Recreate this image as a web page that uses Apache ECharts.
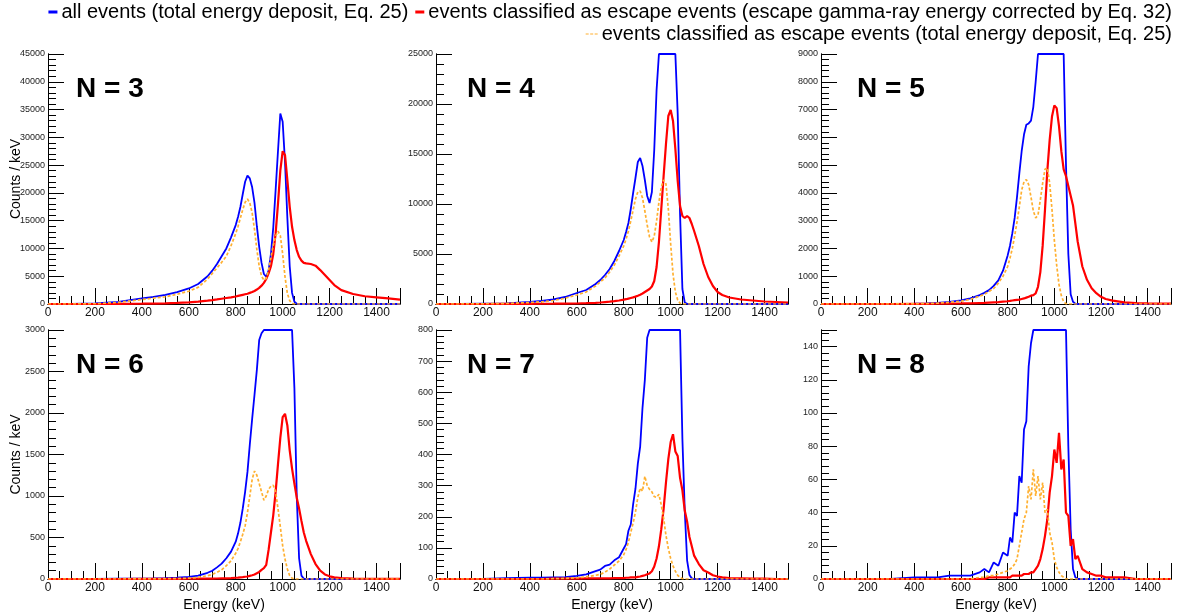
<!DOCTYPE html>
<html>
<head>
<meta charset="utf-8">
<script src="https://cdn.jsdelivr.net/npm/echarts@6/dist/echarts.min.js"></script>
<style>
html,body{margin:0;padding:0;background:#fff;}
#c{width:1178px;height:613px;}
</style>
</head>
<body>
<div id="c"></div>
<script>
// Energy sample points (keV)
const energy = [0,100,200,300,400,450,500,550,600, 640,680, 700,720,740,760,780,
  800,810,820,830,840,850,860,870,880,890,900,910,920,930,940,950,960,970,980,990,
  1000,1010,1020,1030,1040,1050,1060,1070,1080,1090,1100,
  1120,1140,1160,1180,1200,1220, 1250,1300,1350,1400,1450,1500];

// N = 3
const n3All = [0,0,100,400,1000,1300,1650,2150,2800, 3600,5000, 6000,7200,8600,10000,12000,
  14200,15700,17500,19800,22000,23100,22600,21000,18200,14000, 10300,7400,5400,4900,6000,9000,13800,20500,27500,34300,
  32800,25500,15500,6800,2000,400,60,0,0,0,0, 0,0,0,0,0,0, 0,0,0,0,0,0];
const n3Corr = [0,0,0,20,50,80,120,200,300, 430,600, 700,820,950,1080,1200,
  1350,1450,1550,1650,1750,1850,2000,2150,2350,2600, 2900,3300,3800,4500,5500,6800,9000,12700,18000,24000,
  27500,26800,22300,17500,13900,11500,9700,8500,7800,7400,7300, 7200,6900,6100,5200,4300,3400, 2500,1800,1400,1200,1000,800];
const n3Tot = [0,0,50,300,800,1050,1300,1750,2300, 3000,4500, 5500,6500,7500,8600,10500,
  12700,14000,15500,17000,18300,18900,18200,16400,13400,9800, 6800,5000,4300,4600,6100,8500,10600,12200,13100,12300,
  9000,4900,1900,600,100,0,0,0,0,0,0, 0,0,0,0,0,0, 0,0,0,0,0,0];

// N = 4
const n4All = [0,0,30,60,200,300,450,700,1100, 1400,2000, 2400,2900,3500,4300,5300,
  6400,7200,8100,9500,11100,12600,14200,14600,13800,12400, 10800,10100,11200,15400,21400,25300,31000,37000,41000,43000,
  42000,37000,27000,19000,9000,1500,150,20,0,0,0, 0,0,0,0,0,0, 0,0,0,0,0,0];
const n4Corr = [0,0,0,10,20,25,30,40,50, 80,120, 150,190,230,280,350,
  430,480,540,600,660,740,830,930,1050,1200, 1350,1500,1750,2300,3700,6200,9500,12800,16000,18800,
  19400,18300,15500,12300,9800,8800,8600,8800,8600,8000,7300, 5800,4000,2700,1800,1200,900, 650,450,350,250,200,150];
const n4Tot = [0,0,20,50,150,220,350,580,900, 1200,1800, 2200,2600,3200,3900,4800,
  5800,6500,7300,8300,9400,10500,11200,11300,10600,9300, 7900,6700,6200,6800,8300,10200,11700,12400,12000,9500,
  6000,3000,1200,400,80,0,0,0,0,0,0, 0,0,0,0,0,0, 0,0,0,0,0,0];

// N = 5
const n5All = [0,0,0,5,10,20,40,80,130, 200,320, 400,500,650,850,1200,
  1750,2100,2550,3100,3850,4700,5500,6100,6450,6500, 6600,7100,8000,9100,12000,15000,18000,21000,23000,24000,
  24000,22000,18000,12000,9200,5000,1800,350,80,10,0, 0,0,0,0,0,0, 0,0,0,0,0,0];
const n5Corr = [0,0,0,0,5,8,10,15,20, 25,35, 40,50,60,70,85,
  100,110,125,140,150,160,180,200,230,260, 300,320,380,620,1150,2100,3400,4800,5900,6750,
  7150,7050,6400,5500,4850,4600,4250,3900,3550,2900,2250, 1350,870,570,390,260,180, 120,60,35,20,15,10];
const n5Tot = [0,0,0,0,5,15,30,60,100, 170,280, 350,450,560,750,1000,
  1350,1650,2000,2450,2950,3500,4100,4400,4480,4300, 3850,3350,3100,3200,3750,4350,4850,4900,4350,3400,
  2300,1400,700,300,80,10,0,0,0,0,0, 0,0,0,0,0,0, 0,0,0,0,0,0];

// N = 6
const n6All = [0,0,0,3,5,7,10,15,25, 40,75, 100,140,185,250,330,
  450,550,680,850,1050,1290,1620,1930,2220,2520, 2880,2960,3300,4500,6000,7500,9000,10000,10500,10500,
  10000,9000,7500,5500,3600,2300,1000,250,40,5,0, 0,0,0,0,0,0, 0,0,0,0,0,0];
const n6Corr = [0,0,0,0,1,1,2,2,3, 4,5, 5,6,7,8,10,
  15,17,20,23,27,30,38,45,55,70, 85,110,130,170,350,560,770,1050,1380,1700,
  1950,1990,1850,1550,1330,1150,980,850,700,560,460, 300,180,100,55,32,20, 10,5,3,2,1,1];
const n6Tot = [0,0,0,0,1,2,3,5,10, 20,40, 55,80,110,160,220,
  310,370,450,540,640,800,1000,1200,1300,1250, 1150,1050,950,1000,1080,1120,1130,1050,850,630,
  400,240,120,40,10,0,0,0,0,0,0, 0,0,0,0,0,0, 0,0,0,0,0,0];

// N = 7
const n7All = [0,0,0,3,4,4,5,6,10, 15,25, 30,42,46,60,70,
  98,112,155,175,240,290,370,425,550,640, 775,830,1000,1300,1600,1900,2200,2400,2500,2500,
  2400,2100,1700,1200,850,450,220,60,13,2,0, 0,0,0,0,0,0, 0,0,0,0,0,0];
const n7Corr = [0,0,0,0,0,0,1,1,1, 2,2, 2,2,2,3,3,
  3,4,4,5,5,5,7,8,10,12, 15,18,25,40,66,105,160,225,310,385,
  440,465,410,395,325,285,220,185,135,105,75, 48,28,21,12,8,5, 3,2,1,1,0,0];
const n7Tot = [0,0,0,0,0,0,1,2,4, 7,12, 15,22,32,45,58,
  78,95,118,150,180,215,262,292,282,330, 300,288,280,265,262,272,238,195,140,98,
  66,42,25,12,5,1,0,0,0,0,0, 0,0,0,0,0,0, 0,0,0,0,0,0];

// N = 8
const n8All = [0,0,0,0,1,1,1,2,2, 2,4, 6,4,10,8,16,
  14,25,22,40,38,62,58,90,95,128, 142,170,200,230,260,280,300,310,310,300,
  290,270,240,210,190,165,80,30,6,1,0, 0,0,0,0,0,0, 0,0,0,0,0,0];
const n8Corr = [0,0,0,0,0,0,0,0,0, 0,0, 0,1,1,1,1,
  1,1,2,2,2,2,2,3,3,3, 4,4,6,8,12,18,26,36,52,62,
  78,70,88,66,72,40,38,20,24,12,14, 6,4,3,2,2,1, 1,1,0,0,0,0];
const n8Tot = [0,0,0,0,0,0,0,0,0, 0,1, 1,2,2,3,4,
  5,6,7,9,12,20,28,36,40,56, 48,66,50,62,48,58,40,42,28,22,
  12,7,4,2,1,0,0,0,0,0,0, 0,0,0,0,0,0, 0,0,0,0,0,0];

const panelLabels = ['N = 3','N = 4','N = 5','N = 6','N = 7','N = 8'];
const yMax = [45000, 25000, 9000, 3000, 800, 150];
const yInterval = [5000, 5000, 1000, 500, 100, 20];
const xMax = 1500, xInterval = 200, xMinorInterval = 50;
const panelData = [
  [n3All, n3Corr, n3Tot], [n4All, n4Corr, n4Tot], [n5All, n5Corr, n5Tot],
  [n6All, n6Corr, n6Tot], [n7All, n7Corr, n7Tot], [n8All, n8Corr, n8Tot]
];
const seriesNames = [
  'all events (total energy deposit, Eq. 25)',
  'events classified as escape events (escape gamma-ray energy corrected by Eq. 32)',
  'events classified as escape events (total energy deposit, Eq. 25)'
];
const xTitle = 'Energy (keV)';
const yTitle = 'Counts / keV';

const FONT = 'Liberation Sans, Arial, Helvetica, sans-serif';
const colors = ['#0000ff', '#ff0000', '#ffb030'];
const grids = [
  {left: 48, top: 54, width: 352, height: 250},
  {left: 436, top: 54, width: 352, height: 250},
  {left: 821, top: 54, width: 350, height: 250},
  {left: 48, top: 330, width: 352, height: 251},
  {left: 436, top: 330, width: 352, height: 251},
  {left: 821, top: 330, width: 350, height: 251}
];
const labelPos = [[76, 75], [467, 75], [857, 75], [76, 351], [467, 351], [857, 351]];

const xAxes = [], yAxes = [], series = [], titles = [];
const plain = v => String(v);
const black = {color: '#000', width: 1};

// tick-only axis, shifted into the frame by its tick length so the ticks point inward
function tickAxis(gridIndex, position, max, interval, len) {
  return {
    type: 'value', gridIndex: gridIndex, position: position, min: 0, max: max, interval: interval,
    offset: -len,
    axisLine: {show: false},
    axisTick: {show: true, inside: false, length: len, lineStyle: black},
    splitLine: {show: false}, axisLabel: {show: false}, silent: true
  };
}
function frameAxis(gridIndex, position, max, interval) {
  return {
    type: 'value', gridIndex: gridIndex, position: position, min: 0, max: max, interval: interval,
    axisLine: {show: true, lineStyle: black}, axisTick: {show: false},
    splitLine: {show: false}, axisLabel: {show: false}, silent: true
  };
}

for (let i = 0; i < 6; i++) {
  const bottomRow = i >= 3;
  const leftCol = i % 3 === 0;
  // x axis 6i: bottom frame with labels (used by the series)
  xAxes.push({
    type: 'value', gridIndex: i, position: 'bottom', min: 0, max: xMax, interval: xInterval,
    axisLine: {show: true, lineStyle: black}, axisTick: {show: false},
    splitLine: {show: false},
    axisLabel: {fontSize: 12, color: '#111', margin: 3, showMaxLabel: false, fontFamily: FONT, formatter: plain},
    name: bottomRow ? xTitle : '', nameLocation: 'middle', nameGap: 19,
    nameTextStyle: {fontSize: 14, color: '#000', fontFamily: FONT}
  });
  xAxes.push(frameAxis(i, 'top', xMax, xInterval));
  xAxes.push(tickAxis(i, 'bottom', xMax, xInterval, 8));
  xAxes.push(tickAxis(i, 'bottom', xMax, xMinorInterval, 4));
  xAxes.push(tickAxis(i, 'top', xMax, xInterval, 8));
  xAxes.push(tickAxis(i, 'top', xMax, xMinorInterval, 4));

  yAxes.push({
    type: 'value', gridIndex: i, position: 'left', min: 0, max: yMax[i], interval: yInterval[i],
    axisLine: {show: true, lineStyle: black}, axisTick: {show: false},
    splitLine: {show: false},
    axisLabel: {fontSize: 9, color: '#222', margin: 3, fontFamily: FONT, formatter: plain,
      showMaxLabel: yMax[i] % yInterval[i] === 0},
    name: leftCol ? yTitle : '', nameLocation: 'middle', nameGap: 25, nameMoveOverlap: false,
    nameTextStyle: {fontSize: 14, color: '#000', fontFamily: FONT}
  });
  yAxes.push(frameAxis(i, 'right', yMax[i], yInterval[i]));
  yAxes.push(tickAxis(i, 'left', yMax[i], yInterval[i], 8));
  yAxes.push(tickAxis(i, 'left', yMax[i], yInterval[i] / 5, 4));
  yAxes.push(tickAxis(i, 'right', yMax[i], yInterval[i], 8));
  yAxes.push(tickAxis(i, 'right', yMax[i], yInterval[i] / 5, 4));

  for (let s = 0; s < 3; s++) {
    const vals = panelData[i][s];
    series.push({
      name: seriesNames[s], type: 'line', xAxisIndex: 6 * i, yAxisIndex: 6 * i,
      // values above the frame are drawn along the frame top, as in the original plot
      data: energy.map((e, j) => [e, Math.min(vals[j], yMax[i])]),
      showSymbol: false, symbol: 'none', color: colors[s],
      lineStyle: s === 2 ? {color: colors[s], width: 1.7, type: [3, 2]}
                         : {color: colors[s], width: s === 1 ? 2.2 : 1.8},
      z: 3 + s, animation: false, clip: true
    });
  }
  titles.push({
    text: panelLabels[i], left: labelPos[i][0], top: labelPos[i][1], padding: 0,
    textStyle: {fontSize: 28, fontWeight: 'bold', color: '#000', fontFamily: FONT}
  });
}

const chart = echarts.init(document.getElementById('c'));
chart.setOption({
  animation: false,
  backgroundColor: '#fff',
  title: titles,
  grid: grids,
  xAxis: xAxes,
  yAxis: yAxes,
  legend: [
    {data: [seriesNames[0], seriesNames[1]], right: 6, top: 2, padding: 0, itemGap: 7,
     itemWidth: 9, itemHeight: 3, icon: 'rect',
     textStyle: {fontSize: 20, color: '#000', fontFamily: FONT, padding: [0, 0, 0, -1]}},
    {data: [seriesNames[2]], right: 6, top: 24, padding: 0,
     itemWidth: 12, itemHeight: 3, icon: 'path://M0,0H3V1H0Z M4.5,0H7.5V1H4.5Z M9,0H12V1H9Z',
     textStyle: {fontSize: 20, color: '#000', fontFamily: FONT, padding: [0, 0, 0, -1]}}
  ],
  series: series
});
</script>
</body>
</html>
